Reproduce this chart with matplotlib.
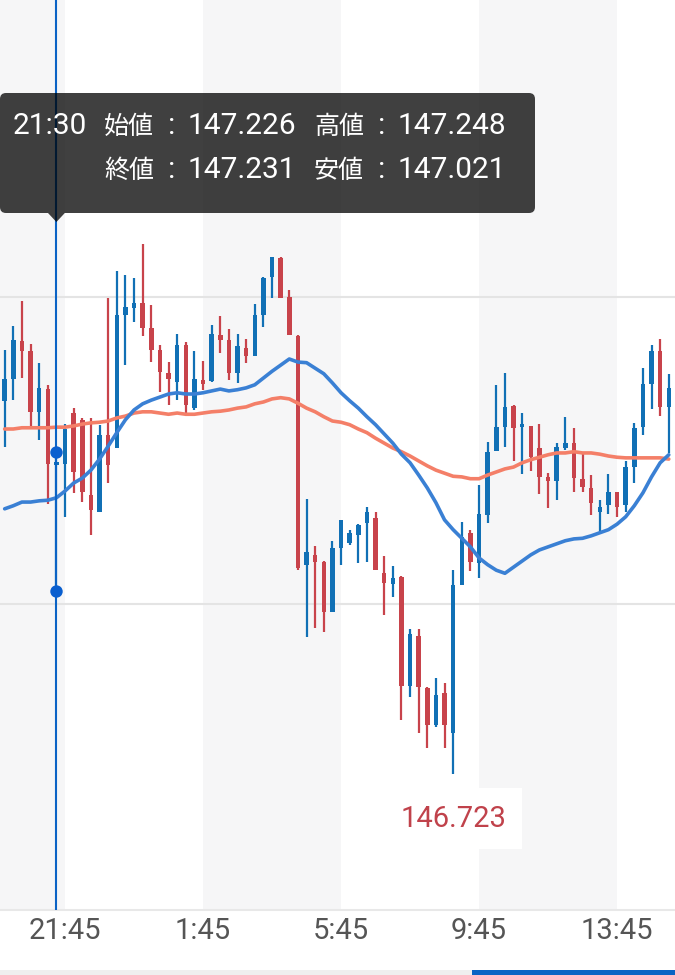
import matplotlib.pyplot as plt
from matplotlib.patches import FancyBboxPatch, Polygon, Rectangle
import numpy as np

plt.rcParams['font.family'] = ['Roboto', 'Noto Sans CJK JP', 'DejaVu Sans']

# 15分足 20:00 〜 15:15 (78本)
opens = [147.331, 147.366, 147.428, 147.412, 147.313, 147.350,
         147.226,
         147.228, 147.311, 147.300, 147.178, 147.150,
         147.275, 147.254, 147.471, 147.482, 147.490,
         147.450, 147.414, 147.376, 147.362, 147.422,
         147.319, 147.365, 147.363, 147.438, 147.430,
         147.376, 147.417, 147.404, 147.471, 147.533,
         147.564, 147.500, 147.437, 147.064, 147.080,
         147.068, 146.987, 147.091, 147.099, 147.112,
         147.132, 147.140, 147.050, 147.033, 147.044,
         146.866, 146.948, 146.863, 146.803, 146.855,
         146.790, 147.031, 147.116, 147.067, 147.145,
         147.249, 147.288, 147.322, 147.288, 147.290,
         147.254, 147.207, 147.200, 147.254, 147.262,
         147.204, 147.189, 147.150, 147.161, 147.182,
         147.161, 147.223, 147.288, 147.358, 147.412, 147.321]
highs = [147.414, 147.453, 147.493, 147.423, 147.393, 147.357,
         147.248,
         147.293, 147.319, 147.303, 147.303, 147.292,
         147.498, 147.542, 147.536, 147.531, 147.586,
         147.487, 147.422, 147.394, 147.440, 147.427,
         147.412, 147.396, 147.454, 147.469, 147.448,
         147.440, 147.432, 147.489, 147.533, 147.565,
         147.565, 147.511, 147.438, 147.171, 147.094,
         147.070, 147.103, 147.137, 147.121, 147.130,
         147.158, 147.150, 147.078, 147.062, 147.046,
         146.959, 146.959, 146.865, 146.879, 146.871,
         147.055, 147.134, 147.121, 147.194, 147.264,
         147.357, 147.376, 147.324, 147.311, 147.290,
         147.293, 147.213, 147.262, 147.305, 147.287,
         147.244, 147.210, 147.169, 147.212, 147.182,
         147.233, 147.295, 147.384, 147.422, 147.432, 147.375]
lows = [147.256, 147.332, 147.368, 147.290, 147.267, 147.163,
        147.021,
        147.142, 147.181, 147.166, 147.112, 147.150,
        147.197, 147.254, 147.389, 147.459, 147.437,
        147.394, 147.345, 147.324, 147.332, 147.311,
        147.316, 147.349, 147.362, 147.409, 147.365,
        147.360, 147.393, 147.404, 147.451, 147.498,
        147.498, 147.438, 147.055, 146.946, 146.961,
        146.954, 146.987, 147.064, 147.096, 147.067,
        147.068, 147.055, 146.982, 147.011, 146.811,
        146.849, 146.790, 146.765, 146.800, 146.765,
        146.723, 147.031, 147.054, 147.042, 147.132,
        147.249, 147.256, 147.233, 147.212, 147.217,
        147.179, 147.156, 147.169, 147.251, 147.182,
        147.182, 147.145, 147.117, 147.147, 147.142,
        147.150, 147.197, 147.275, 147.318, 147.306, 147.246]
closes = [147.366, 147.430, 147.412, 147.313, 147.352, 147.228,
          147.231,
          147.285, 147.215, 147.182, 147.153, 147.275,
          147.226, 147.471, 147.484, 147.490, 147.450,
          147.414, 147.378, 147.366, 147.422, 147.324,
          147.366, 147.358, 147.440, 147.430, 147.376,
          147.420, 147.404, 147.471, 147.531, 147.565,
          147.498, 147.438, 147.059, 147.085, 147.068,
          146.987, 147.091, 147.137, 147.116, 147.129,
          147.150, 147.055, 147.034, 147.042, 146.866,
          146.951, 146.865, 146.803, 146.852, 146.803,
          147.031, 147.109, 147.068, 147.147, 147.248,
          147.288, 147.321, 147.287, 147.293, 147.239,
          147.207, 147.200, 147.256, 147.262, 147.205,
          147.191, 147.165, 147.158, 147.182, 147.158,
          147.223, 147.287, 147.358, 147.412, 147.321, 147.352]

ma_short = [147.155, 147.160, 147.166, 147.166, 147.168, 147.169,
            147.173,
            147.184, 147.197, 147.205, 147.218, 147.236,
            147.257, 147.279, 147.300, 147.316, 147.326,
            147.332, 147.337, 147.342, 147.344, 147.342,
            147.342, 147.344, 147.347, 147.350, 147.347,
            147.349, 147.352, 147.357, 147.368, 147.379,
            147.389, 147.399, 147.394, 147.393, 147.384,
            147.375, 147.360, 147.344, 147.331, 147.319,
            147.305, 147.292, 147.277, 147.262, 147.244,
            147.230, 147.210, 147.189, 147.165, 147.137,
            147.121, 147.107, 147.093, 147.075, 147.064,
            147.055, 147.050, 147.060, 147.070, 147.080,
            147.088, 147.093, 147.098, 147.103, 147.106,
            147.107, 147.111, 147.116, 147.121, 147.130,
            147.142, 147.160, 147.181, 147.207, 147.230, 147.243]
ma_long = [147.285, 147.285, 147.287, 147.287, 147.287, 147.287,
           147.288,
           147.288, 147.290, 147.293, 147.295, 147.296,
           147.298, 147.303, 147.306, 147.311, 147.313,
           147.313, 147.311, 147.309, 147.311, 147.309,
           147.309, 147.311, 147.313, 147.314, 147.316,
           147.319, 147.321, 147.326, 147.329, 147.334,
           147.336, 147.334, 147.327, 147.319, 147.313,
           147.305, 147.298, 147.296, 147.292, 147.285,
           147.279, 147.270, 147.262, 147.254, 147.248,
           147.241, 147.233, 147.225, 147.218, 147.213,
           147.208, 147.207, 147.204, 147.204, 147.210,
           147.215, 147.220, 147.223, 147.230, 147.235,
           147.239, 147.243, 147.246, 147.246, 147.248,
           147.246, 147.246, 147.244, 147.241, 147.239,
           147.238, 147.238, 147.238, 147.238, 147.238, 147.236]

tick_pos = [7, 23, 39, 55, 71]
tick_labels = ['21:45', '1:45', '5:45', '9:45', '13:45']
grid_levels = [147.0, 147.5]

sel = 6            # 21:30 の足
sel_time = '21:30'
tip_names = ['始値', '高値', '終値', '安値']

BLUE = '#1170b5'
RED = '#c8434b'

o = np.array(opens)
h = np.array(highs)
l = np.array(lows)
c = np.array(closes)
x = np.arange(len(o))

fig = plt.figure(figsize=(6.75, 9.75), dpi=100)
ax = fig.add_axes([0, 65 / 975, 1, 910 / 975])
ax.set_xlim(-0.54, 77.72)
ax.set_ylim(146.5016, 147.9837)

# 背景の縞
edges = [ax.get_xlim()[0]] + tick_pos + [ax.get_xlim()[1]]
for i in range(0, len(edges) - 1, 2):
    ax.axvspan(edges[i], edges[i + 1], color='#f6f6f7', lw=0, zorder=0)

ax.set_yticks(grid_levels)
ax.set_yticklabels([])
ax.yaxis.grid(True, color='#e4e4e4', lw=1.5, zorder=1)
ax.tick_params(axis='y', length=0)
ax.set_axisbelow(True)

for s in ['top', 'left', 'right']:
    ax.spines[s].set_visible(False)
ax.spines['bottom'].set_color('#e8e8e8')
ax.spines['bottom'].set_linewidth(1.5)

ax.set_xticks(tick_pos)
ax.set_xticklabels(tick_labels, fontsize=21, color='#555555')
ax.tick_params(axis='x', length=0, pad=5)

# ローソク足
up = c >= o
cols = np.where(up, BLUE, RED)
ax.vlines(x, l, h, colors=cols, lw=1.6, zorder=3)
body = np.maximum(np.abs(c - o), 0.003)
ax.bar(x, body, bottom=np.minimum(o, c), width=0.52, color=cols, lw=0, zorder=3)

# 移動平均
ax.plot(x, ma_long, color='#f47f68', lw=2.6, zorder=4, solid_capstyle='round')
ax.plot(x, ma_short, color='#3a80d4', lw=2.6, zorder=4, solid_capstyle='round')

# クロスヘア
ax.axvline(sel, color='#0b63c5', lw=1.5, zorder=5)
ax.scatter([sel, sel], [h[sel], l[sel]], s=80, color='#0a5fcf', zorder=6, lw=0)

# 最安値ラベル
imin = int(np.argmin(l))
ax.annotate(f'{l[imin]:.3f}', xy=(imin, l[imin]), xytext=(0, -32),
            textcoords='offset points', ha='center', va='center',
            fontsize=21, color='#c0424b', zorder=7,
            bbox=dict(boxstyle='square,pad=0.55', fc='white', ec='none'))

# ツールチップ (ピクセル座標のオーバーレイ)
ov = fig.add_axes([0, 0, 1, 1])
ov.set_xlim(0, 675)
ov.set_ylim(975, 0)
ov.axis('off')
ov.patch.set_alpha(0)

ov.add_patch(FancyBboxPatch((0, 93), 535, 120, boxstyle='round,pad=0,rounding_size=6',
                            fc='black', ec='none', alpha=0.75))
ov.add_patch(Polygon([(48, 213), (64.8, 213), (56.4, 222)], closed=True,
                     fc='black', ec='none', alpha=0.75))

tip_vals = [o[sel], h[sel], c[sel], l[sel]]
ov.text(13, 134, sel_time, color='white', fontsize=21.5, va='baseline', ha='left')
for k, (name, val) in enumerate(zip(tip_names, tip_vals)):
    col = k % 2
    row = k // 2
    xb = 104 + col * 210
    yb = 134 + row * 44
    ov.text(xb, yb, name, color='white', fontsize=18, va='baseline', ha='left',
            family=['Noto Sans CJK JP'])
    ov.text(xb + 68, yb, ':', color='white', fontsize=21.5, va='baseline', ha='center')
    ov.text(xb + 84, yb, f'{val:.3f}', color='white', fontsize=21.5, va='baseline', ha='left')

# 下部バー
ov.add_patch(Rectangle((0, 970), 472, 5, fc='#efefef', ec='none'))
ov.add_patch(Rectangle((472, 970), 203, 5, fc='#0a64c4', ec='none'))

fig.savefig('out.png', dpi=100, facecolor='white')
